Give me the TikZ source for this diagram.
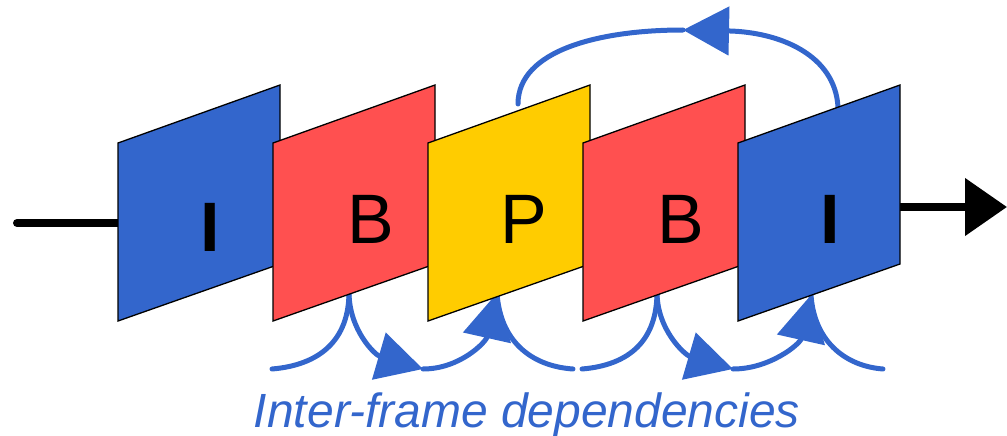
\documentclass[tikz,border=0pt]{standalone}
\usepackage{fontspec}
\setmainfont{Liberation Sans}
\usetikzlibrary{arrows.meta}
\definecolor{fblue}{HTML}{3366CC}
\definecolor{fred}{HTML}{FF5050}
\definecolor{fyellow}{HTML}{FFCC00}
\begin{document}
\begin{tikzpicture}[x=1pt,y=1pt,
  frame/.style={draw=black,line width=1.3pt,line join=miter},
  dep/.style={draw=fblue,line width=5pt,line cap=round},
  deparrow/.style={dep,-{Triangle[length=46pt,width=48pt]}},
  flow/.style={draw=black,line width=8pt},
  letter/.style={font=\fontsize{70}{70}\selectfont,anchor=base,inner sep=0pt},
]
\useasboundingbox (0,0) rectangle (1007,-436);

% connector end points
\coordinate (inL) at (17,-223);
\coordinate (f1W) at (118,-223);
\coordinate (f5E) at (899,-207);
\coordinate (outE) at (1007,-207);

\coordinate (a0) at (272,-369);
\coordinate (cB1) at (349,-292);
\coordinate (a1) at (423,-369);
\coordinate (cP) at (497,-293);
\coordinate (a2) at (573,-369);
\coordinate (b0) at (582,-369);
\coordinate (cB2) at (657,-292);
\coordinate (b1) at (733,-369);
\coordinate (cI2) at (811,-295);
\coordinate (b2) at (883,-369);

\coordinate (topP) at (518,-104);
\coordinate (topI) at (838,-107);
\coordinate (apex) at (683,-30);

% input / output flow
\draw[flow,line cap=round] (inL) -- (f1W);
\draw[flow,-{Triangle[length=42pt,width=56pt]}] (f5E) -- (outE);

% inter-frame dependencies (bottom)
\draw[dep] (a0) .. controls (320,-365) and (349,-340) .. (cB1);
\draw[deparrow] (cB1) .. controls (349,-330) and (375,-355) .. (a1);
\draw[deparrow] (a1) .. controls (460,-369) and (486,-342) .. (cP);
\draw[dep] (cP) .. controls (500,-340) and (530,-366) .. (a2);

\draw[dep] (b0) .. controls (630,-365) and (657,-340) .. (cB2);
\draw[deparrow] (cB2) .. controls (657,-330) and (685,-355) .. (b1);
\draw[deparrow] (b1) .. controls (770,-369) and (800,-344) .. (cI2);
\draw[dep] (cI2) .. controls (814,-340) and (844,-366) .. (b2);

% top dependency arc
\draw[deparrow] (topI) .. controls (835,-55) and (780,-32) .. (apex);
\draw[dep] (apex) .. controls (600,-30) and (518,-50) .. (topP);

% frames
\foreach \L/\c in {118/fblue, 273/fred, 428/fyellow, 583/fred, 738/fblue}{
  \filldraw[frame, fill=\c] (\L,-143) -- (\L+162,-85) -- (\L+162,-264) -- (\L,-321) -- cycle;
}

% frame letters
\node[letter] (l1) at (210.5,-251) {\textbf{I}};
\node[letter] (l2) at (370.5,-243) {B};
\node[letter] (l3) at (524,-243) {P};
\node[letter] (l4) at (681,-243) {B};
\node[letter] (l5) at (830,-243) {\textbf{I}};

% caption
\node[font=\fontsize{48}{48}\selectfont\itshape, text=fblue, anchor=base, inner sep=0pt] (cap) at (527,-427) {Inter-frame dependencies};
\end{tikzpicture}
\end{document}
